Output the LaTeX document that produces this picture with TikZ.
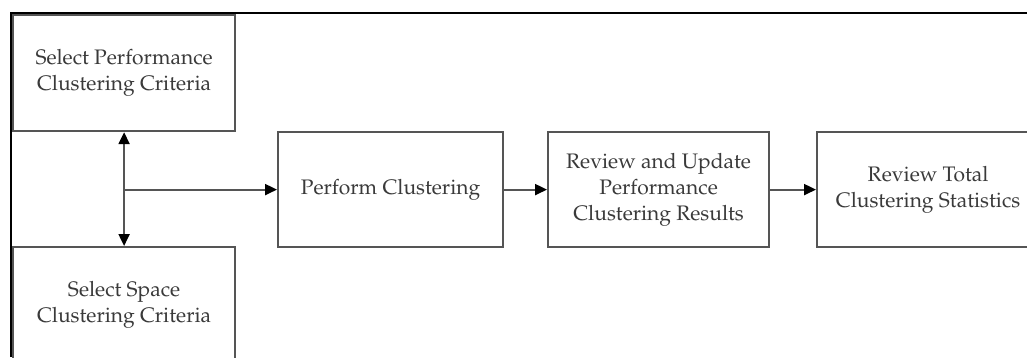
\documentclass[tikz,border=0pt]{standalone}
\usepackage[T1]{fontenc}
\renewcommand\rmdefault{ppl}
\usetikzlibrary{arrows.meta}
\definecolor{linegray}{HTML}{555555}
\definecolor{textgray}{HTML}{3A3A3A}
\begin{document}
\begin{tikzpicture}[x=1pt,y=-1pt,
  box/.style={draw=linegray, line width=2.2pt, minimum width=222pt, minimum height=116pt,
    inner sep=0pt, align=center, text=textgray, font=\fontsize{21}{26}\selectfont, anchor=north west},
  conn/.style={draw=linegray, line width=2.2pt, -{Triangle[length=12pt,width=11pt,color=black]}},
  frameline/.style={draw=black, line width=2.5pt}]
\useasboundingbox (0,0) rectangle (1027,357);
\clip (0,0) rectangle (1027,357);
\node[box] (sp) at (12,14) {Select Performance\\Clustering Criteria};
\node[box] (ss) at (12,246) {Select Space\\Clustering Criteria};
\node[box, minimum width=225pt, minimum height=115pt] (pc) at (277,131) {Perform Clustering};
\node[box, minimum width=221pt, minimum height=115pt] (ru) at (547,131) {Review and Update\\Performance\\Clustering Results};
\node[box, minimum width=222pt, minimum height=115pt] (rt) at (816,131) {Review Total\\Clustering Statistics};
\coordinate (j) at (sp.south |- pc.west);
\draw[conn] (j) -- (sp.south);
\draw[conn] (j) -- (ss.north);
\draw[conn] (j) -- (pc.west);
\draw[conn] (pc) -- (ru);
\draw[conn] (ru) -- (rt);
\coordinate (fbl) at (11,357);
\coordinate (ftl) at (11,13);
\coordinate (ftr) at (1027,13);
\draw[frameline] (fbl) -- (ftl) -- (ftr);
\end{tikzpicture}
\end{document}
